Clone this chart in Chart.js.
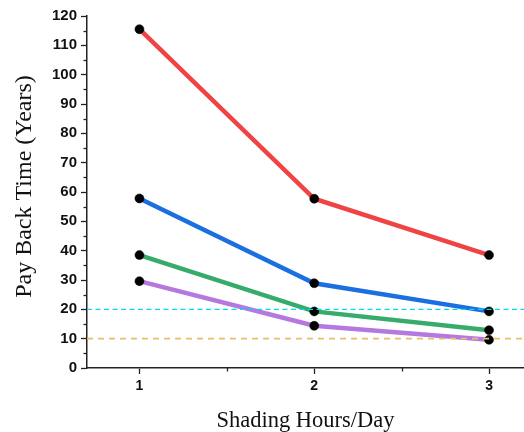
<!DOCTYPE html>
<html><head><meta charset="utf-8">
<script src="https://cdn.jsdelivr.net/npm/chart.js@4/dist/chart.umd.min.js"></script>
<style>html,body{margin:0;padding:0;background:#fff}canvas{display:block}</style>
</head><body>
<canvas id="c" width="524" height="432"></canvas>
<script>
const shadingHours = [1, 2, 3];
const redSeries = [115.5, 57.7, 38.5];
const blueSeries = [57.8, 28.9, 19.3];
const greenSeries = [38.5, 19.3, 12.9];
const purpleSeries = [29.6, 14.4, 9.6];
const refCyan = 20;
const refOrange = 10;
const yTicks = [0,10,20,30,40,50,60,70,80,90,100,110,120];
const xTicks = [1, 2, 3];
const xRange = [0.7, 3.2];
const yTitle = 'Pay Back Time (Years)';
const xTitle = 'Shading Hours/Day';

function pts(vals){ return shadingHours.map((h,i)=>({x:h,y:vals[i]})); }
function hline(v){ return [{x:xRange[0],y:v},{x:xRange[1],y:v}]; }

const lineStyle = c => ({borderColor:c, backgroundColor:'#000', pointBackgroundColor:'#000', pointBorderColor:'#000', pointRadius:4.5, pointBorderWidth:0.5, pointHoverRadius:4.5, borderWidth:4.5, tension:0, order:2});

const extras = {
  id:'extras',
  afterDraw(chart){
    const ctx = chart.ctx, y = chart.scales.y, x = chart.scales.x;
    ctx.save(); ctx.strokeStyle='#222'; ctx.lineWidth=1.3;
    for(let v=5; v<120; v+=10){
      const p = Math.round(y.getPixelForValue(v))+0.5;
      ctx.beginPath(); ctx.moveTo(x.left-3.5,p); ctx.lineTo(x.left,p); ctx.stroke();
    }
    for(const v of [1.5,2.5]){
      const p = Math.round(x.getPixelForValue(v))+0.5;
      ctx.beginPath(); ctx.moveTo(p,y.bottom); ctx.lineTo(p,y.bottom+3.5); ctx.stroke();
    }
    ctx.translate(25, 186.5); ctx.rotate(-Math.PI/2);
    ctx.fillStyle='#111'; ctx.font='24px "Liberation Serif", "Times New Roman", serif';
    ctx.textAlign='center'; ctx.textBaseline='middle';
    ctx.fillText(yTitle, 0, 0);
    ctx.restore();
  }
};

new Chart(document.getElementById('c'), {
  type:'line',
  data:{datasets:[
    Object.assign({data:pts(redSeries)}, lineStyle('#f04343')),
    Object.assign({data:pts(blueSeries)}, lineStyle('#1b6fe0')),
    Object.assign({data:pts(greenSeries)}, lineStyle('#36ab6b')),
    Object.assign({data:pts(purpleSeries)}, lineStyle('#b478e0')),
    {data:hline(refCyan), borderColor:'#00dcec', borderWidth:1.4, borderDash:[5,3.5], pointRadius:0, order:1},
    {data:hline(refOrange), borderColor:'#e8bf6a', borderWidth:1.6, borderDash:[6,5], pointRadius:0, order:1}
  ]},
  plugins:[extras],
  options:{
    responsive:false, animation:false, devicePixelRatio:1,
    layout:{autoPadding:false, padding:{top:16,right:0,left:0,bottom:0}},
    plugins:{legend:{display:false}, tooltip:{enabled:false}},
    scales:{
      x:{type:'linear', min:xRange[0], max:xRange[1],
        afterBuildTicks(s){ s.ticks = xTicks.map(v=>({value:v})); },
        afterFit(s){ s.height = 64; s.paddingRight = 0; s.paddingLeft = 0; },
        grid:{drawOnChartArea:false, drawTicks:true, tickLength:6, color:'#222', tickWidth:1.3},
        border:{display:true, color:'#222', width:1.5},
        ticks:{color:'#111', font:{family:'Liberation Sans, Arial', weight:'bold', size:14}, padding:4},
        title:{display:true, text:xTitle, color:'#111', font:{family:'Liberation Serif, Times New Roman', size:22.5}, padding:{top:10,bottom:-3}}
      },
      y:{type:'linear', min:0, max:120,
        afterBuildTicks(s){ s.ticks = yTicks.map(v=>({value:v})); },
        afterFit(s){ s.width = 87; s.paddingTop = 0; s.paddingBottom = 0; },
        grid:{drawOnChartArea:false, drawTicks:true, tickLength:6, color:'#222', tickWidth:1.3},
        border:{display:true, color:'#222', width:1.5},
        ticks:{color:'#111', font:{family:'Liberation Sans, Arial', weight:'bold', size:15}, padding:4}
      }
    }
  }
});
</script>
</body></html>
